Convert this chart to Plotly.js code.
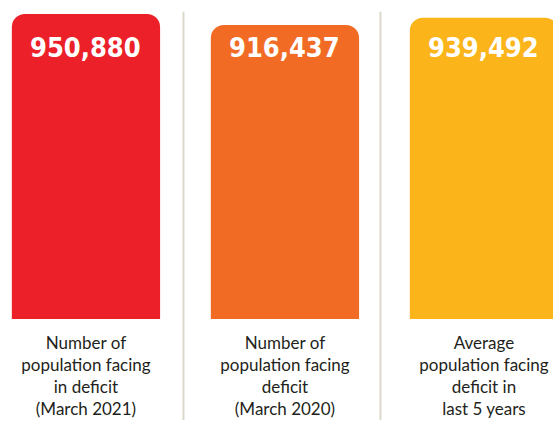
<!DOCTYPE html>
<html>
<head>
<meta charset="utf-8">
<script src="https://cdn.plot.ly/plotly-3.0.1.min.js"></script>
<style>html,body{margin:0;padding:0;background:#fff;}#chart{width:553px;height:422px;}</style>
</head>
<body>
<div id="chart"></div>
<script>
const categories = [
  "Number of<br>population facing<br>in deficit<br>(March 2021)",
  "Number of<br>population facing<br>deficit<br>(March 2020)",
  "Average<br>population facing<br>deficit in<br>last 5 years"
];
const values = [950880, 916437, 939492];
const colors = ["#ec2029", "#f26b25", "#fbb51b"];

const fmt = v => v.toLocaleString("en-US");

const trace = {
  type: "bar",
  x: [0, 1, 2],
  y: values,
  width: 0.745,
  marker: {color: colors, cornerradius: 13, line: {width: 0}},
  hoverinfo: "none"
};

const annotations = values.map((v, i) => ({
  x: i, xref: "x",
  y: 0.889, yref: "paper", yanchor: "middle",
  text: "<b>" + fmt(v) + "</b>",
  showarrow: false,
  font: {family: "DejaVu Sans Condensed", size: 27, color: "#ffffff"}
}));

const sepColor = "#dcd8cc";
const shapes = [0.49, 1.48].map(xp => ({
  type: "line", xref: "x", yref: "paper",
  x0: xp, x1: xp, y0: -0.331, y1: 1.007,
  line: {color: sepColor, width: 2}
}));

const layout = {
  width: 553, height: 422,
  margin: {l: 0, r: 0, t: 14, b: 103},
  paper_bgcolor: "#ffffff", plot_bgcolor: "#ffffff",
  showlegend: false,
  xaxis: {
    range: [-0.432, 2.347],
    tickvals: [0, 1, 2],
    ticktext: categories,
    ticks: "", showgrid: false, zeroline: false, showline: false,
    ticklabelstandoff: 12,
    tickfont: {family: "Lato", size: 17, color: "#231f20"},
    fixedrange: true
  },
  yaxis: {
    range: [0, 950880],
    visible: false, showgrid: false, zeroline: false,
    fixedrange: true
  },
  annotations: annotations,
  shapes: shapes
};

Plotly.newPlot("chart", [trace], layout, {displayModeBar: false, staticPlot: true});
</script>
</body>
</html>
